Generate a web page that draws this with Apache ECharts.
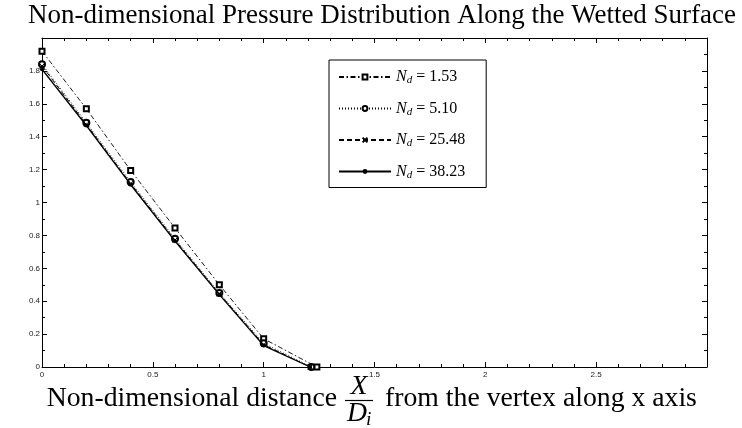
<!DOCTYPE html>
<html><head><meta charset="utf-8">
<script src="https://cdn.jsdelivr.net/npm/echarts@6/dist/echarts.min.js"></script>
<style>html,body{margin:0;padding:0;background:#fff}#c{width:742px;height:428px}</style>
</head><body><div id="c"></div>
<script>
// ---- data ----
const seriesNames = ['1.53', '5.10', '25.48', '38.23'];
const xNd153  = [0, 0.2, 0.4, 0.6, 0.8, 1.0, 1.24];
const yNd153  = [1.92, 1.57, 1.195, 0.845, 0.50, 0.172, 0];
const xNd510  = [0, 0.2, 0.4, 0.6, 0.8, 1.0, 1.215];
const yNd510  = [1.84, 1.485, 1.125, 0.78, 0.45, 0.144, 0];
const xNd2548 = [0, 0.2, 0.4, 0.6, 0.8, 1.0, 1.21];
const yNd2548 = [1.83, 1.475, 1.115, 0.772, 0.445, 0.136, 0];
const xNd3823 = [0, 0.2, 0.4, 0.6, 0.8, 1.0, 1.21];
const yNd3823 = [1.81, 1.468, 1.108, 0.765, 0.44, 0.13, 0];
const xTicks = [0, 0.5, 1, 1.5, 2, 2.5, 3];
const yTicks = [0, 0.2, 0.4, 0.6, 0.8, 1, 1.2, 1.4, 1.6, 1.8, 2];

const titleText = 'Non-dimensional Pressure Distribution Along the Wetted Surface';
const xNameLeft = 'Non-dimensional distance';
const xNameRight = 'from the vertex along x axis';

const SERIF = '"Liberation Serif", "DejaVu Serif", serif';
const SANS = '"Liberation Sans", Arial, sans-serif';

// fit serif font size to reference text width
const cv = document.createElement('canvas').getContext('2d');
function fit(text, target, style) {
  cv.font = (style || '') + ' 25px ' + SERIF;
  return 25 * target / cv.measureText(text).width;
}
const fsTitle = fit(titleText, 708);
const fsName = fit(xNameRight, 312);

function pairs(xs, ys) { return xs.map((x, i) => [x, ys[i]]); }

const axisCommon = {
  type: 'value', min: 0,
  axisLine: { show: true, onZero: false, lineStyle: { color: '#000', width: 1 } },
  axisTick: { show: true, inside: true, length: 5, lineStyle: { color: '#000', width: 1 } },
  splitLine: { show: false }
};

const chart = echarts.init(document.getElementById('c'), null, { renderer: 'canvas' });
const option = {
  backgroundColor: '#fff',
  animation: false,
  grid: { left: 42, right: 35, top: 38, bottom: 61 },
  xAxis: [
    Object.assign({}, axisCommon, {
      position: 'bottom', max: xTicks[xTicks.length - 1], interval: 0.5,
      minorTick: { show: true, splitNumber: 5, length: 3, lineStyle: { color: '#000' } },
      axisLabel: { show: true, fontSize: 8, fontFamily: SANS, color: '#222', margin: 4, showMaxLabel: false }
    }),
    Object.assign({}, axisCommon, {
      position: 'top', max: xTicks[xTicks.length - 1], interval: 0.5,
      minorTick: { show: true, splitNumber: 5, length: 3, lineStyle: { color: '#000' } },
      axisLabel: { show: false }
    })
  ],
  yAxis: [
    Object.assign({}, axisCommon, {
      position: 'left', max: yTicks[yTicks.length - 1], interval: 0.2,
      minorTick: { show: true, splitNumber: 2, length: 3, lineStyle: { color: '#000' } },
      axisLabel: { show: true, fontSize: 8, fontFamily: SANS, color: '#222', margin: 2, showMaxLabel: false }
    }),
    Object.assign({}, axisCommon, {
      position: 'right', max: yTicks[yTicks.length - 1], interval: 0.2,
      minorTick: { show: true, splitNumber: 2, length: 3, lineStyle: { color: '#000' } },
      axisLabel: { show: false }
    })
  ],
  legend: {
    orient: 'vertical', left: 329, top: 60,
    data: seriesNames,
    backgroundColor: '#fff', borderColor: '#000', borderWidth: 1,
    padding: [8, 21, 7, 9],
    itemWidth: 52, itemHeight: 6, itemGap: 13.5,
    formatter: name => '{n|N}{s|d}{t| = ' + name + '}',
    textStyle: {
      fontFamily: SERIF, fontSize: 16, color: '#000',
      rich: {
        n: { fontFamily: SERIF, fontStyle: 'italic', fontSize: 16, lineHeight: 16 },
        s: { fontFamily: SERIF, fontStyle: 'italic', fontSize: 11, lineHeight: 16, padding: [7, 0, 0, 0] },
        t: { fontFamily: SERIF, fontSize: 16, lineHeight: 16 }
      }
    }
  },
  series: [
    {
      name: seriesNames[0], type: 'line', data: pairs(xNd153, yNd153),
      symbol: 'emptyRect', symbolSize: 5,
      lineStyle: { color: '#000', width: 0.9, type: [5, 2.5, 1.5, 2.5] },
      itemStyle: { color: '#000', borderWidth: 1 }, z: 2
    },
    {
      name: seriesNames[1], type: 'line', data: pairs(xNd510, yNd510),
      symbol: 'emptyCircle', symbolSize: 6,
      lineStyle: { color: '#000', width: 0.9, type: [1, 2] },
      itemStyle: { color: '#000', borderWidth: 1.2 }, z: 3
    },
    {
      name: seriesNames[2], type: 'line', data: pairs(xNd2548, yNd2548),
      symbol: 'path://M0,0L10,10M10,0L0,10', symbolSize: 5,
      lineStyle: { color: '#000', width: 1, type: [5, 3] },
      itemStyle: { color: '#000', borderColor: '#000', borderWidth: 1 }, z: 4
    },
    {
      name: seriesNames[3], type: 'line', data: pairs(xNd3823, yNd3823),
      symbol: 'circle', symbolSize: 4,
      lineStyle: { color: '#000', width: 1.3, type: 'solid' },
      itemStyle: { color: '#000' }, z: 5
    }
  ],
  graphic: [
    { type: 'text', x: 382, y: 16, style: { text: titleText, font: fsTitle.toFixed(2) + 'px ' + SERIF, fill: '#000', textAlign: 'center', textVerticalAlign: 'middle' } },
    { type: 'text', x: 337, y: 399, style: { text: xNameLeft, font: fsName.toFixed(2) + 'px ' + SERIF, fill: '#000', textAlign: 'right', textVerticalAlign: 'middle' } },
    { type: 'text', x: 359, y: 387, style: { text: 'X', font: 'italic ' + fsName.toFixed(2) + 'px ' + SERIF, fill: '#000', textAlign: 'center', textVerticalAlign: 'middle' } },
    { type: 'line', shape: { x1: 345, y1: 400.5, x2: 373, y2: 400.5 }, style: { stroke: '#000', lineWidth: 1.2 } },
    { type: 'text', x: 357, y: 414, style: { text: 'D', font: 'italic ' + fsName.toFixed(2) + 'px ' + SERIF, fill: '#000', textAlign: 'center', textVerticalAlign: 'middle' } },
    { type: 'text', x: 366, y: 420, style: { text: 'i', font: 'italic ' + (fsName * 0.7).toFixed(2) + 'px ' + SERIF, fill: '#000', textAlign: 'left', textVerticalAlign: 'middle' } },
    { type: 'text', x: 385, y: 399, style: { text: xNameRight, font: fsName.toFixed(2) + 'px ' + SERIF, fill: '#000', textAlign: 'left', textVerticalAlign: 'middle' } }
  ]
};
chart.setOption(option);
</script>
</body></html>
